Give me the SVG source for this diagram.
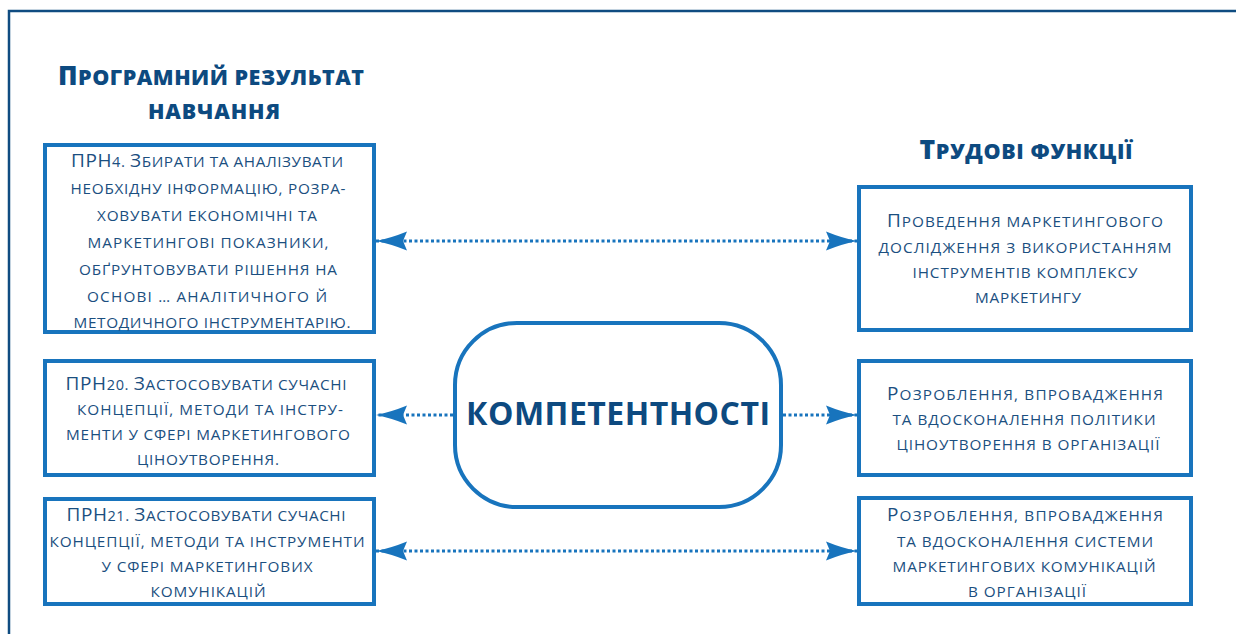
<svg xmlns="http://www.w3.org/2000/svg" width="1236" height="634" viewBox="0 0 1236 634">
  <defs>
    <style>
      .frame { fill: none; stroke: #0f4c81; stroke-width: 2.5; }
      .box { fill: #ffffff; stroke: #1874bd; stroke-width: 4; }
      .conn { fill: none; stroke: #1874bd; stroke-width: 3; stroke-dasharray: 3 2.5; }
      .title { font-family: "Open Sans", "Noto Sans", sans-serif; font-weight: 800; font-size: 21.5px; text-transform: uppercase; fill: #0d4a80; text-anchor: middle; }
      .title .c { font-size: 26.5px; }
      .t { font-family: "Open Sans", "Noto Sans", sans-serif; font-weight: 500; font-size: 15.3px; text-transform: uppercase; fill: #1b4f80; text-anchor: middle; }
      .t .c { font-size: 19px; }
      .t .d { font-size: 14.5px; }
      .center { font-family: "Open Sans", "Noto Sans", sans-serif; font-weight: 700; font-size: 32px; fill: #0d4a80; text-anchor: middle; }
    </style>
    <marker id="arr" viewBox="0 0 32 20" markerWidth="32" markerHeight="20" refX="31" refY="10" orient="auto-start-reverse" markerUnits="userSpaceOnUse">
      <path d="M31,10 Q16,7 0,0.5 L4,10 L0,19.5 Q16,13 31,10 Z" fill="#1874bd"/>
    </marker>
  </defs>

  <path class="frame" d="M9,640 V11 H1240"/>

  <g id="title-left">
    <text class="title"><tspan x="211" y="85" textLength="306" lengthAdjust="spacing"><tspan class="c">П</tspan>рограмний результат</tspan><tspan x="214" y="119" textLength="132" lengthAdjust="spacing">навчання</tspan></text>
  </g>
  <g id="title-right">
    <text class="title" x="1026" y="159" textLength="213" lengthAdjust="spacing"><tspan class="c">Т</tspan>рудові функції</text>
  </g>

  <g id="connectors">
    <line class="conn" x1="376" y1="241" x2="857" y2="241" marker-start="url(#arr)" marker-end="url(#arr)"/>
    <line class="conn" x1="453" y1="415" x2="376" y2="415" marker-end="url(#arr)"/>
    <line class="conn" x1="783" y1="415" x2="857" y2="415" marker-end="url(#arr)"/>
    <line class="conn" x1="376" y1="551" x2="857" y2="551" marker-start="url(#arr)" marker-end="url(#arr)"/>
  </g>

  <g id="prn4">
    <rect class="box" x="45" y="145" width="329" height="187"/>
    <text class="t" x="207" y="167" textLength="272" lengthAdjust="spacing"><tspan class="c">ПРН</tspan><tspan class="d">4</tspan>. <tspan class="c">З</tspan>бирати та аналізувати</text>
    <text class="t" x="208" y="194" textLength="275" lengthAdjust="spacing">необхідну інформацію, розра-</text>
    <text class="t" x="207" y="221" textLength="220" lengthAdjust="spacing">ховувати економічні та</text>
    <text class="t" x="208" y="248" textLength="241" lengthAdjust="spacing">маркетингові показники,</text>
    <text class="t" x="208" y="275" textLength="258" lengthAdjust="spacing">обґрунтовувати рішення на</text>
    <text class="t" x="207" y="302" textLength="240" lengthAdjust="spacing">основі … аналітичного й</text>
    <text class="t" x="212" y="328" textLength="277" lengthAdjust="spacing">методичного інструментарію.</text>
  </g>

  <g id="prn20">
    <rect class="box" x="45" y="361" width="329" height="114"/>
    <text class="t" x="206" y="390" textLength="281" lengthAdjust="spacing"><tspan class="c">ПРН</tspan><tspan class="d">20</tspan>. <tspan class="c">З</tspan>астосовувати сучасні</text>
    <text class="t" x="210" y="415" textLength="266" lengthAdjust="spacing">концепції, методи та інстру-</text>
    <text class="t" x="208" y="440" textLength="284" lengthAdjust="spacing">менти у сфері маркетингового</text>
    <text class="t" x="208" y="465" textLength="142" lengthAdjust="spacing">ціноутворення.</text>
  </g>

  <g id="prn21">
    <rect class="box" x="45" y="499" width="329" height="105"/>
    <text class="t" x="206" y="521" textLength="279" lengthAdjust="spacing"><tspan class="c">ПРН</tspan><tspan class="d">21</tspan>. <tspan class="c">З</tspan>астосовувати сучасні</text>
    <text class="t" x="207" y="547" textLength="315" lengthAdjust="spacing">концепції, методи та інструменти</text>
    <text class="t" x="207" y="572" textLength="211" lengthAdjust="spacing">у сфері маркетингових</text>
    <text class="t" x="208" y="597" textLength="115" lengthAdjust="spacing">комунікацій</text>
  </g>

  <g id="competences">
    <rect class="box" x="455" y="323" width="326" height="184" rx="62" ry="62"/>
    <text class="center" x="618" y="425" textLength="304" lengthAdjust="spacing">КОМПЕТЕНТНОСТІ</text>
  </g>

  <g id="tf1">
    <rect class="box" x="859" y="187" width="332" height="143"/>
    <text class="t" x="1025" y="227" textLength="276" lengthAdjust="spacing"><tspan class="c">П</tspan>роведення маркетингового</text>
    <text class="t" x="1025" y="253" textLength="293" lengthAdjust="spacing">дослідження з використанням</text>
    <text class="t" x="1025" y="278" textLength="225" lengthAdjust="spacing">інструментів комплексу</text>
    <text class="t" x="1028" y="303" textLength="106" lengthAdjust="spacing">маркетингу</text>
  </g>

  <g id="tf2">
    <rect class="box" x="859" y="361" width="332" height="114"/>
    <text class="t" x="1025" y="400" textLength="276" lengthAdjust="spacing"><tspan class="c">Р</tspan>озроблення, впровадження</text>
    <text class="t" x="1024" y="425" textLength="263" lengthAdjust="spacing">та вдосконалення політики</text>
    <text class="t" x="1028" y="450" textLength="263" lengthAdjust="spacing">ціноутворення в організації</text>
  </g>

  <g id="tf3">
    <rect class="box" x="859" y="498" width="332" height="106"/>
    <text class="t" x="1025" y="521" textLength="276" lengthAdjust="spacing"><tspan class="c">Р</tspan>озроблення, впровадження</text>
    <text class="t" x="1025" y="547" textLength="256" lengthAdjust="spacing">та вдосконалення системи</text>
    <text class="t" x="1024" y="572" textLength="263" lengthAdjust="spacing">маркетингових комунікацій</text>
    <text class="t" x="1027" y="597" textLength="118" lengthAdjust="spacing">в організації</text>
  </g>
</svg>
